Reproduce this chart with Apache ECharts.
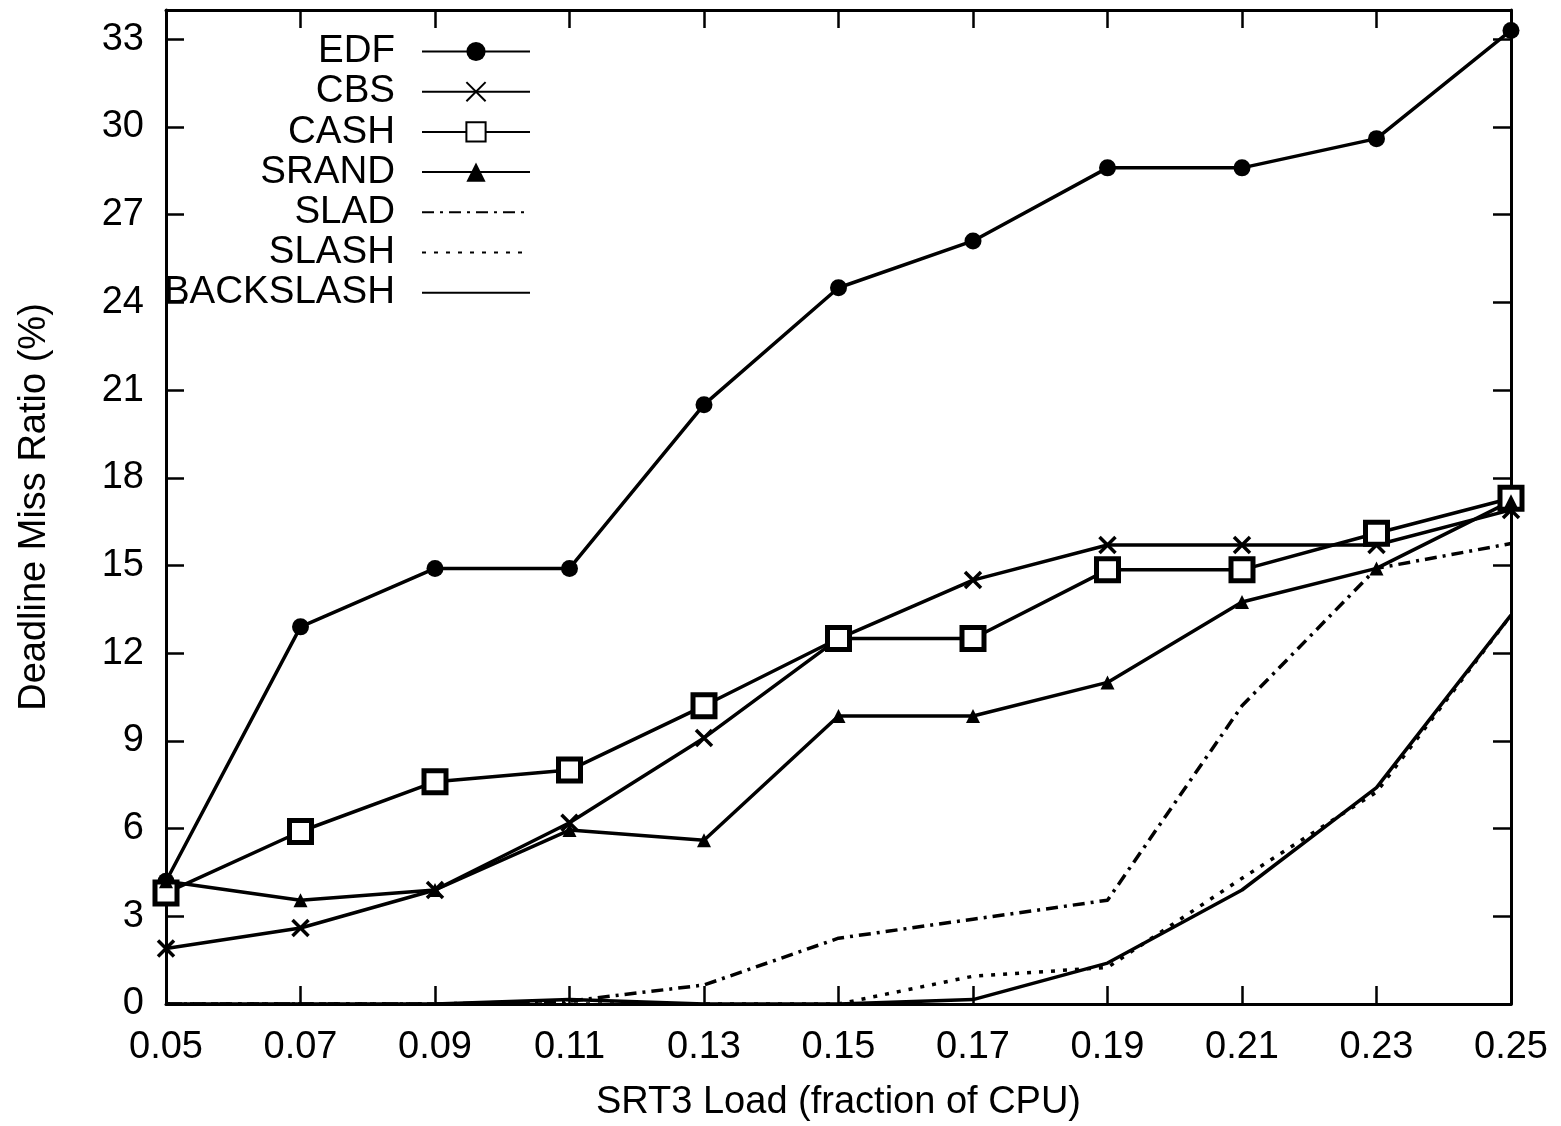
<!DOCTYPE html>
<html>
<head>
<meta charset="utf-8">
<script src="https://cdn.jsdelivr.net/npm/echarts@6/dist/echarts.min.js"></script>
<style>
html,body{margin:0;padding:0;background:#fff;}
#chart{width:1561px;height:1126px;}
</style>
</head>
<body>
<div id="chart"></div>
<script>
const categories = ['0.05','0.07','0.09','0.11','0.13','0.15','0.17','0.19','0.21','0.23','0.25'];
const yTicks = [0,3,6,9,12,15,18,21,24,27,30,33];
const edf       = [4.2, 12.9, 14.9, 14.9, 20.5, 24.5, 26.1, 28.6, 28.6, 29.6, 33.3];
const cbs       = [1.9, 2.6, 3.9, 6.2, 9.1, 12.5, 14.5, 15.7, 15.7, 15.7, 16.9];
const cash      = [3.8, 5.9, 7.6, 8.0, 10.2, 12.5, 12.5, 14.85, 14.85, 16.1, 17.3];
const srand     = [4.2, 3.55, 3.9, 5.95, 5.6, 9.85, 9.85, 11.0, 13.75, 14.9, 17.2];
const slad      = [0, 0, 0, 0.1, 0.65, 2.25, 2.9, 3.55, 10.2, 14.9, 15.75];
const slash     = [0, 0, 0, 0, 0, 0, 0.95, 1.25, 4.3, 7.25, 13.3];
const backslash = [0, 0, 0, 0.15, 0, 0, 0.15, 1.4, 3.9, 7.4, 13.3];

const FONT = '"Liberation Sans", Arial, sans-serif';
const chart = echarts.init(document.getElementById('chart'), null, {renderer: 'canvas'});

function mk(name, data, symbol, size, itemStyle, lineType, showSym) {
  return {
    name: name, type: 'line', data: data,
    symbol: symbol, symbolSize: size,
    showSymbol: showSym !== false,
    itemStyle: itemStyle,
    lineStyle: {color: '#000', width: 3.5, type: lineType || 'solid'},
    emphasis: {disabled: true}
  };
}

const tickStyle = {show: true, inside: true, length: 18, lineStyle: {color: '#000', width: 2.5}};
const lineCommon = {show: true, onZero: false, lineStyle: {color: '#000', width: 3}};

chart.setOption({
  animation: false,
  backgroundColor: '#fff',
  textStyle: {fontFamily: FONT},
  grid: {left: 166, right: 50, top: 10, bottom: 122, containLabel: false, outerBoundsMode: 'none'},
  legend: {
    orient: 'vertical',
    left: 158,
    top: 27,
    align: 'right',
    itemWidth: 108,
    itemHeight: 24,
    itemGap: 1.2,
    textStyle: {fontSize: 38.5, color: '#000', fontFamily: FONT, width: 232, align: 'right', lineHeight: 34, padding: [0, 22, 0, 0]},
    data: ['EDF','CBS','CASH','SRAND','SLAD','SLASH','BACKSLASH']
  },
  xAxis: [
    {
      type: 'category', data: categories, boundaryGap: false,
      position: 'bottom',
      name: 'SRT3 Load (fraction of CPU)', nameLocation: 'middle', nameGap: 80,
      nameMoveOverlap: false,
      nameTextStyle: {fontSize: 38, color: '#000', fontFamily: FONT},
      axisLine: lineCommon,
      axisTick: Object.assign({interval: 0}, tickStyle),
      axisLabel: {fontSize: 38, color: '#000', margin: 25, fontFamily: FONT, interval: 0},
      splitLine: {show: false}
    },
    {
      type: 'category', data: categories, boundaryGap: false,
      position: 'top',
      axisLine: lineCommon,
      axisTick: Object.assign({interval: 0}, tickStyle),
      axisLabel: {show: false},
      splitLine: {show: false}
    }
  ],
  yAxis: [
    {
      type: 'value', min: 0, max: 34, interval: 3, position: 'left',
      name: 'Deadline Miss Ratio (%)', nameLocation: 'middle', nameGap: 112,
      nameMoveOverlap: false,
      nameTextStyle: {fontSize: 38, color: '#000', fontFamily: FONT},
      axisLine: lineCommon,
      axisTick: Object.assign({customValues: yTicks}, tickStyle),
      axisLabel: {fontSize: 38, color: '#000', margin: 22, fontFamily: FONT, customValues: yTicks},
      splitLine: {show: false}
    },
    {
      type: 'value', min: 0, max: 34, interval: 3, position: 'right',
      axisLine: lineCommon,
      axisTick: Object.assign({customValues: yTicks}, tickStyle),
      axisLabel: {show: false},
      splitLine: {show: false}
    }
  ],
  series: [
    mk('EDF', edf, 'circle', 17, {color: '#000'}),
    mk('CBS', cbs, 'path://M0,0L10,10M10,0L0,10', 16, {color: '#000', borderColor: '#000', borderWidth: 3.5}),
    mk('CASH', cash, 'rect', 22, {color: '#fff', borderColor: '#000', borderWidth: 5}),
    mk('SRAND', srand, 'triangle', 14, {color: '#000'}),
    mk('SLAD', slad, 'circle', 1, {color: 'rgba(0,0,0,0)', borderWidth: 0}, [12, 6, 3, 6], false),
    mk('SLASH', slash, 'circle', 1, {color: 'rgba(0,0,0,0)', borderWidth: 0}, [4, 8], false),
    mk('BACKSLASH', backslash, 'circle', 1, {color: 'rgba(0,0,0,0)', borderWidth: 0}, 'solid', false)
  ]
});
</script>
</body>
</html>
